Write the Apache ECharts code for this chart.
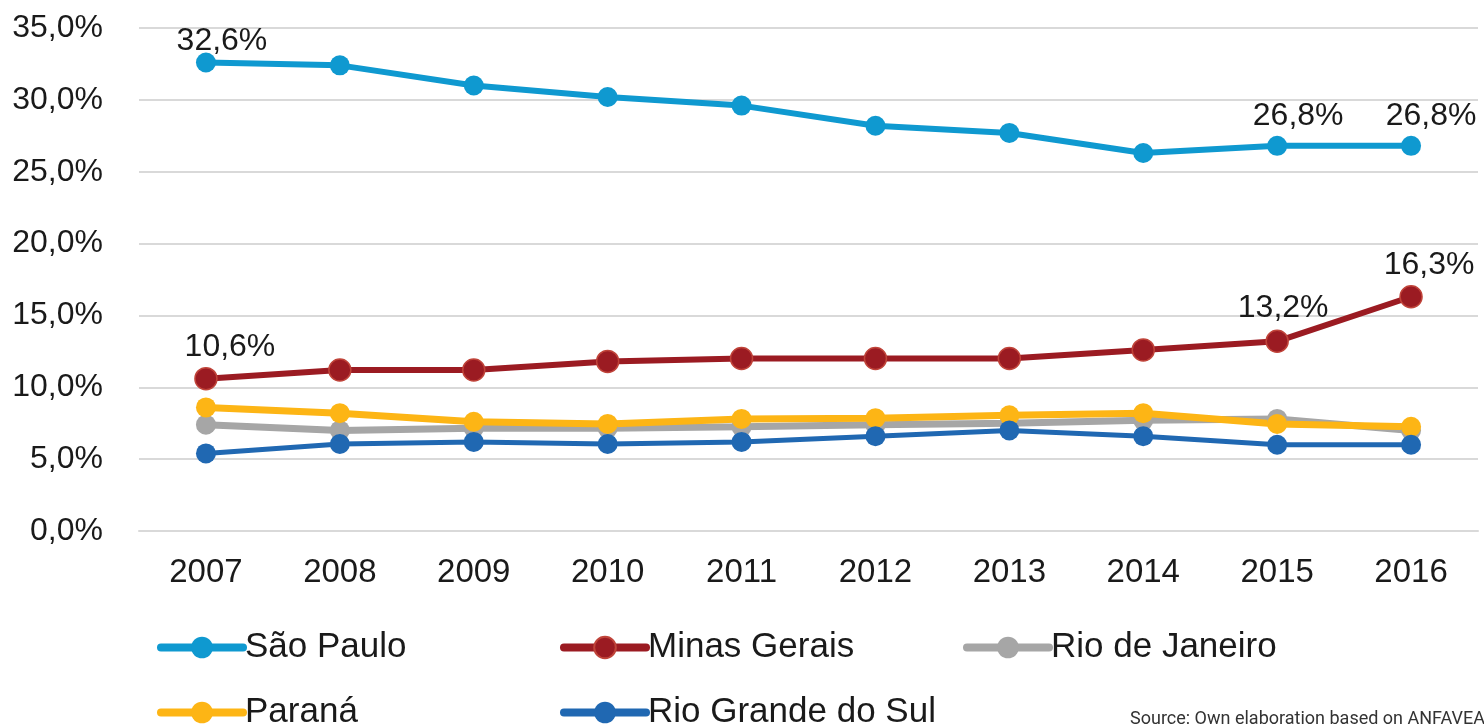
<!DOCTYPE html>
<html><head><meta charset="utf-8">
<script src="https://cdn.jsdelivr.net/npm/echarts@6/dist/echarts.min.js"></script>
<style>html,body{margin:0;padding:0;background:#fff}#c{width:1484px;height:725px}</style>
</head><body><div id="c"></div>
<script>
const years = ['2007','2008','2009','2010','2011','2012','2013','2014','2015','2016'];
const saoPaulo = [32.6, 32.4, 31.0, 30.2, 29.6, 28.2, 27.7, 26.3, 26.8, 26.8];
const minasGerais = [10.6, 11.2, 11.2, 11.8, 12.0, 12.0, 12.0, 12.6, 13.2, 16.3];
const rioDeJaneiro = [7.4, 7.0, 7.15, 7.15, 7.25, 7.4, 7.5, 7.7, 7.8, 7.0];
const parana = [8.6, 8.2, 7.6, 7.45, 7.8, 7.85, 8.05, 8.2, 7.45, 7.25];
const rioGrandeDoSul = [5.4, 6.05, 6.2, 6.05, 6.2, 6.6, 7.0, 6.6, 6.0, 6.0];
const yTicks = {min: 0, max: 35, interval: 5};
const labeledSP = [0, 8, 9];
const labeledMG = [0, 8, 9];
const sourceText = 'Source: Own elaboration based on ANFAVEA';

const FONT = '"Liberation Sans", Arial, sans-serif';
const fmt = v => v.toFixed(1).replace('.', ',') + '%';

function withLabels(arr, idxs, offsets) {
  return arr.map((v, i) => {
    const k = idxs.indexOf(i);
    if (k < 0) return v;
    return {value: v, label: {show: true, position: 'top', distance: offsets[k][1], offset: [offsets[k][0], 0],
      formatter: p => fmt(p.value), fontSize: 32, color: '#1a1a1a', fontFamily: FONT}};
  });
}

function lineSeries(name, data, color, width, size, extra) {
  return Object.assign({
    name, type: 'line', data, symbol: 'circle', symbolSize: size,
    lineStyle: {color, width}, itemStyle: {color},
    emphasis: {disabled: true}, animation: false
  }, extra || {});
}

const legendNames = ['São Paulo', 'Minas Gerais', 'Rio de Janeiro', 'Paraná', 'Rio Grande do Sul'];
const legendPos = [[157, 630], [560, 630], [963, 630], [157, 695], [560, 695]];

const option = {
  animation: false,
  grid: {left: 139, right: 6, top: 28, bottom: 194},
  xAxis: {
    type: 'category', data: years, boundaryGap: true,
    axisLine: {lineStyle: {color: '#d9d9d9', width: 2}},
    axisTick: {show: false},
    axisLabel: {fontSize: 33, color: '#1a1a1a', margin: 25, fontFamily: FONT}
  },
  yAxis: {
    type: 'value', min: yTicks.min, max: yTicks.max, interval: yTicks.interval,
    axisLine: {show: false}, axisTick: {show: false},
    splitLine: {lineStyle: {color: '#d9d9d9', width: 2}},
    axisLabel: {fontSize: 32, color: '#1a1a1a', margin: 36, formatter: fmt, fontFamily: FONT}
  },
  legend: legendNames.map((n, i) => ({
    data: [n], left: legendPos[i][0], top: legendPos[i][1], padding: 0,
    itemWidth: 82, itemHeight: 27, itemGap: 0,
    lineStyle: {width: 8, cap: 'round'},
    textStyle: {fontSize: 35, color: '#1a1a1a', fontFamily: FONT, padding: [0, 0, 0, -3]},
    selectedMode: false
  })),
  series: [
    lineSeries('São Paulo', withLabels(saoPaulo, labeledSP, [[16, -5], [21, 4], [20, 4]]), '#0f99d0', 6, 20),
    lineSeries('Minas Gerais', withLabels(minasGerais, labeledMG, [[24, 4], [6, 5], [18, 4]]), '#9b1b22', 6, 22,
      {itemStyle: {color: '#9b1b22', borderColor: '#c0443a', borderWidth: 1.5}}),
    lineSeries('Rio de Janeiro', rioDeJaneiro, '#a6a6a6', 7, 20),
    lineSeries('Paraná', parana, '#fdb515', 7, 20),
    lineSeries('Rio Grande do Sul', rioGrandeDoSul, '#2068b2', 5, 20)
  ],
  graphic: [{
    type: 'text', left: 1130, top: 710,
    style: {text: sourceText, fontSize: 18, fill: '#333', fontFamily: '"Roboto", "Liberation Sans", sans-serif'}
  }]
};

const chart = echarts.init(document.getElementById('c'), null, {renderer: 'canvas'});
chart.setOption(option);
</script></body></html>
